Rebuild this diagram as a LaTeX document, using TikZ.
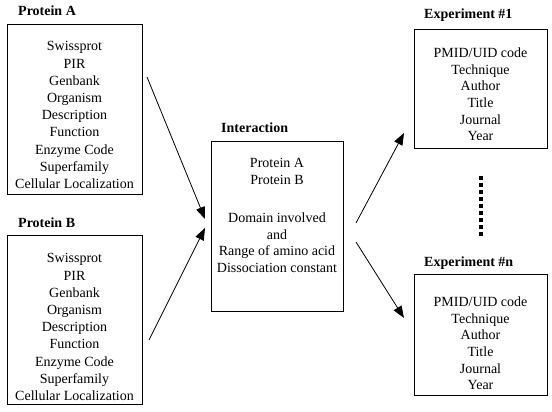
\documentclass[tikz,border=0pt]{standalone}
\usepackage{fontspec}
\setmainfont{Liberation Serif}
\usetikzlibrary{arrows.meta}
\begin{document}
\begin{tikzpicture}[x=1pt,y=-1pt,
  box/.style={draw, line width=1.1pt, anchor=north west, inner sep=0pt},
  body/.style={font=\fontsize{14}{17.2}\selectfont, align=center, anchor=north, inner sep=0pt},
  bodyi/.style={font=\fontsize{14}{16.7}\selectfont, align=center, anchor=north, inner sep=0pt},
  title/.style={font=\fontsize{14}{17}\selectfont\bfseries, anchor=base west, inner sep=0pt},
  arr/.style={line width=0.8pt, -{Triangle[length=12pt,width=9pt]}},
  dots/.style={line width=4pt, dash pattern=on 4pt off 3pt}]
\useasboundingbox (0,0) rectangle (552,412);

% boxes
\node[box, minimum width=135pt, minimum height=170pt] (A) at (7,24) {};
\node[box, minimum width=135pt, minimum height=169pt] (B) at (7,235) {};
\node[box, minimum width=132pt, minimum height=170pt] (I) at (211,141) {};
\node[box, minimum width=133pt, minimum height=119pt] (E1) at (414,29) {};
\node[box, minimum width=133pt, minimum height=121pt] (En) at (414,274) {};

% titles
\node[title] (tA) at (18,16) {Protein A};
\node[title] (tB) at (18,227) {Protein B};
\node[title] (tI) at (221,132) {Interaction};
\node[title] (tE1) at (424,19) {Experiment \#1};
\node[title] (tEn) at (424,266) {Experiment \#n};

% contents
\node[body] (cA) at (74.5,41.5) {Swissprot\\PIR\\Genbank\\Organism\\Description\\Function\\Enzyme Code\\Superfamily\\Cellular Localization};
\node[body] (cB) at (74.5,253.5) {Swissprot\\PIR\\Genbank\\Organism\\Description\\Function\\Enzyme Code\\Superfamily\\Cellular Localization};
\node[bodyi] (cI) at (277,158.5) {Protein A\\Protein B\\[21pt]Domain involved\\and\\Range of amino acid\\Dissociation constant};
\node[bodyi] (cE1) at (480.5,47.5) {PMID/UID code\\Technique\\Author\\Title\\Journal\\Year};
\node[bodyi] (cEn) at (480.5,296.5) {PMID/UID code\\Technique\\Author\\Title\\Journal\\Year};

% arrow ends
\coordinate (a1s) at (147,77);
\coordinate (a1e) at (205,219);
\coordinate (a2s) at (149,340);
\coordinate (a2e) at (205,228);
\coordinate (a3s) at (356,223);
\coordinate (a3e) at (404,133);
\coordinate (a4s) at (356,242);
\coordinate (a4e) at (404,318);
\draw[arr] (a1s) -- (a1e);
\draw[arr] (a2s) -- (a2e);
\draw[arr] (a3s) -- (a3e);
\draw[arr] (a4s) -- (a4e);

% dotted separator
\coordinate (d1) at (481,176);
\coordinate (d2) at (481,237);
\draw[dots] (d1) -- (d2);
\end{tikzpicture}
\end{document}
